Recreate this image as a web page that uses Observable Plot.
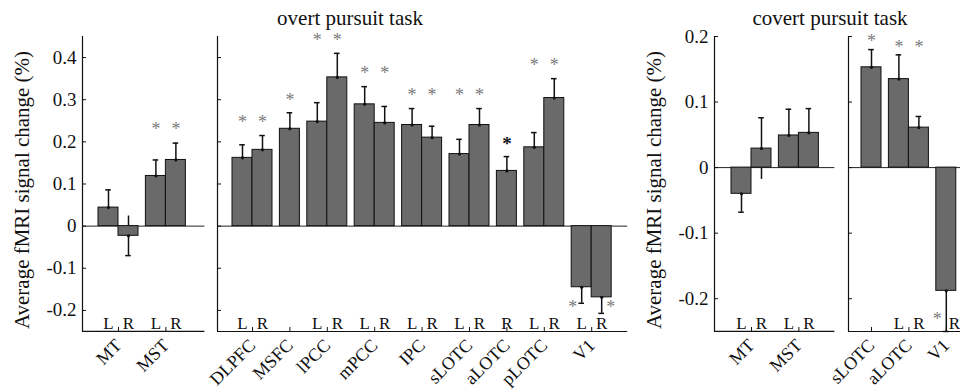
<!DOCTYPE html>
<html><head><meta charset="utf-8">
<script src="https://cdn.jsdelivr.net/npm/d3@7"></script>
<script src="https://cdn.jsdelivr.net/npm/@observablehq/plot@0.6"></script>
<style>
html,body{margin:0;padding:0;background:#fff;}
#fig{position:relative;width:960px;height:389px;overflow:hidden;background:#fff;font-family:"Liberation Serif","Times New Roman",serif;}
.panel{position:absolute;top:0;}
.title{position:absolute;top:8px;font-size:21px;line-height:21px;white-space:nowrap;transform:translateX(-50%);color:#111;}
</style></head><body>
<div id="fig"></div>
<script>
// ---------- data ----------
const titles = ["overt pursuit task", "covert pursuit task"];
const yLabel = "Average fMRI signal change (%)";

const overtTickValues = [-0.2, -0.1, 0, 0.1, 0.2, 0.3, 0.4];
const overtTickLabels = ["-0.2", "-0.1", "0", "0.1", "0.2", "0.3", "0.4"];
const covertTickValues = [-0.2, -0.1, 0, 0.1, 0.2];
const covertTickLabels = ["-0.2", "-0.1", "0", "0.1", "0.2"];

// overt, left panel
const overtLeftRegion = ["MT", "MT", "MST", "MST"];
const overtLeftHemi = ["L", "R", "L", "R"];
const overtLeftValue = [0.044, -0.023, 0.119, 0.157];
const overtLeftError = [0.042, 0.047, 0.038, 0.040];
const overtLeftSig = [0, 0, 1, 1];

// overt, right panel
const overtRightRegion = ["DLPFC", "DLPFC", "MSFC", "lPCC", "lPCC", "mPCC", "mPCC", "IPC", "IPC", "sLOTC", "sLOTC", "aLOTC", "pLOTC", "pLOTC", "V1", "V1"];
const overtRightHemi = ["L", "R", "", "L", "R", "L", "R", "L", "R", "L", "R", "R", "L", "R", "L", "R"];
const overtRightValue = [0.162, 0.181, 0.231, 0.248, 0.353, 0.289, 0.245, 0.240, 0.210, 0.171, 0.240, 0.131, 0.187, 0.304, -0.145, -0.169];
const overtRightError = [0.031, 0.034, 0.038, 0.045, 0.057, 0.042, 0.039, 0.039, 0.027, 0.035, 0.039, 0.034, 0.035, 0.046, 0.038, 0.038];
const overtRightSig = [1, 1, 1, 1, 1, 1, 1, 1, 1, 1, 1, 2, 1, 1, 1, 1];

// covert, left panel
const covertLeftRegion = ["MT", "MT", "MST", "MST"];
const covertLeftHemi = ["L", "R", "L", "R"];
const covertLeftValue = [-0.040, 0.029, 0.049, 0.053];
const covertLeftError = [0.028, 0.047, 0.040, 0.037];
const covertLeftSig = [0, 0, 0, 0];

// covert, right panel
const covertRightRegion = ["sLOTC", "aLOTC", "aLOTC", "V1"];
const covertRightHemi = ["", "L", "R", "R"];
const covertRightValue = [0.153, 0.135, 0.061, -0.188];
const covertRightError = [0.027, 0.037, 0.017, 0.062];
const covertRightSig = [1, 1, 1, 1];

// ---------- drawing ----------
const UNIT = 20, GAP = 0.37;
const FONT = "Liberation Serif, Times New Roman, serif";

function panel(cfg) {
  let g = -1, prev = null;
  const rows = cfg.region.map((r, i) => {
    if (r !== prev) { g++; prev = r; }
    return {region: r, hemi: cfg.hemi[i], value: cfg.value[i], err: cfg.error[i], sig: cfg.sig[i], pos: i + g * GAP};
  });
  const groups = d3.groups(rows, d => d.region).map(([name, bars]) => ({
    name, bars,
    center: d3.mean(bars, d => d.pos),
    top: d3.max(bars, d => d.value + d.err),
    negEnd: d3.max(bars.filter(d => d.value < 0), d => d.value - d.err)
  }));
  const gmap = new Map(groups.map(d => [d.name, d]));
  const nameAt = new Map(groups.map(d => [d.center, d.name]));
  const stars = rows.filter(d => d.sig > 0).map(d => {
    const gr = gmap.get(d.region);
    const idx = gr.bars.indexOf(d);
    if (d.value >= 0) return {x: d.pos, y: gr.top, neg: false, sig: d.sig};
    return {x: d.pos + (gr.bars.length > 1 && idx === 1 ? 0.45 : -0.45), y: gr.negEnd, neg: true, sig: d.sig};
  });
  // a hemisphere label that would sit on a full-length error line is nudged to its right
  const hemiRows = rows.map(d => ({...d, lx: (d.value - d.err <= cfg.yDomain[0] + 0.02) ? d.pos + 0.4 : d.pos}));
  const y0 = cfg.yDomain[0];
  const xDom = [rows[0].pos - cfg.lp, rows[rows.length - 1].pos + cfg.rp];
  const frameW = (xDom[1] - xDom[0]) * UNIT;
  const ml = cfg.marginLeft, mr = 4;
  const tickMap = new Map(cfg.tickValues.map((v, i) => [v, cfg.tickLabels[i]]));
  const marks = [
    Plot.ruleY([0], {stroke: "#222", strokeWidth: 1}),
    Plot.ruleX(rows, {x: "pos", y1: d => d.value - d.err, y2: d => d.value + d.err, stroke: "#111", strokeWidth: 1.5}),
    Plot.ruleY(rows, {y: d => d.value + Math.sign(d.value) * d.err, x1: d => d.pos - 0.14, x2: d => d.pos + 0.14, stroke: "#111", strokeWidth: 1.5}),
    Plot.rect(rows, {x1: d => d.pos - 0.5, x2: d => d.pos + 0.5, y1: 0, y2: "value", fill: "#6a6a6a", stroke: "#111", strokeWidth: 1}),
    Plot.dot(rows, {x: "pos", y: "value", r: 1.6, fill: "#111"}),
    Plot.ruleX([xDom[0]], {stroke: "#111", strokeWidth: 1.2}),
    Plot.ruleY([y0], {stroke: "#111", strokeWidth: 1.2}),
    Plot.axisY({ticks: cfg.tickValues, tickSize: -4, tickPadding: 10, fontSize: 19,
      tickFormat: cfg.showY ? (v => tickMap.get(v)) : (() => ""), label: null}),
    Plot.axisX({ticks: groups.map(d => d.center), tickSize: -4, tickPadding: 15, tickRotate: -45, fontSize: 18,
      lineAnchor: "middle", textAnchor: "end", tickFormat: v => nameAt.get(v), label: null}),
    Plot.text(hemiRows, {x: "lx", y: y0, text: "hemi", lineAnchor: "bottom", dy: -2, fontSize: 17, fill: "#111"}),
    Plot.text(stars.filter(d => !d.neg && d.sig === 1), {x: "x", y: "y", text: () => "*", dy: cfg.starDy, fontSize: 18, fill: "#7a7a7a"}),
    Plot.text(stars.filter(d => !d.neg && d.sig === 2), {x: "x", y: "y", text: () => "*", dy: cfg.starDy, fontSize: 19, fontWeight: "bold", fill: "#111"}),
    Plot.text(stars.filter(d => d.neg), {x: "x", y: "y", text: () => "*", dy: cfg.starDyNeg, fontSize: 18, fill: "#7a7a7a"})
  ];
  if (cfg.showY) {
    marks.push(Plot.text([yLabel], {frameAnchor: "left", textAnchor: "middle", rotate: -90, dx: -60, dy: 6, fontSize: 21, text: d => d, fill: "#111"}));
  }
  const svg = Plot.plot({
    width: ml + frameW + mr, height: 389,
    marginTop: 36, marginBottom: 58, marginLeft: ml, marginRight: mr,
    x: {type: "linear", domain: xDom},
    y: {domain: cfg.yDomain},
    style: {background: "transparent", overflow: "visible", color: "#111", fontFamily: FONT},
    marks
  });
  const wrap = document.createElement("div");
  wrap.className = "panel";
  wrap.style.left = (cfg.frameLeft - ml) + "px";
  wrap.style.width = (ml + frameW + mr) + "px";
  wrap.appendChild(svg);
  return wrap;
}

const fig = document.getElementById("fig");
fig.appendChild(panel({region: overtLeftRegion, hemi: overtLeftHemi, value: overtLeftValue, error: overtLeftError, sig: overtLeftSig,
  yDomain: [-0.25, 0.45], tickValues: overtTickValues, tickLabels: overtTickLabels, showY: true,
  frameLeft: 82, marginLeft: 82, lp: 1.3, rp: 1.45, starDy: -14, starDyNeg: 4}));
fig.appendChild(panel({region: overtRightRegion, hemi: overtRightHemi, value: overtRightValue, error: overtRightError, sig: overtRightSig,
  yDomain: [-0.25, 0.45], tickValues: overtTickValues, tickLabels: overtTickLabels, showY: false,
  frameLeft: 217, marginLeft: 4, lp: 1.25, rp: 1.3, starDy: -13, starDyNeg: 4}));
fig.appendChild(panel({region: covertLeftRegion, hemi: covertLeftHemi, value: covertLeftValue, error: covertLeftError, sig: covertLeftSig,
  yDomain: [-0.25, 0.2], tickValues: covertTickValues, tickLabels: covertTickLabels, showY: true,
  frameLeft: 714, marginLeft: 82, lp: 1.35, rp: 1.3, starDy: -8, starDyNeg: -12}));
fig.appendChild(panel({region: covertRightRegion, hemi: covertRightHemi, value: covertRightValue, error: covertRightError, sig: covertRightSig,
  yDomain: [-0.25, 0.2], tickValues: covertTickValues, tickLabels: covertTickLabels, showY: false,
  frameLeft: 848, marginLeft: 4, lp: 1.15, rp: 2.0, starDy: -8, starDyNeg: -12}));

const t1 = document.createElement("div"); t1.className = "title"; t1.style.left = "350px"; t1.textContent = titles[0]; fig.appendChild(t1);
const t2 = document.createElement("div"); t2.className = "title"; t2.style.left = "830px"; t2.textContent = titles[1]; fig.appendChild(t2);
</script>
</body></html>
